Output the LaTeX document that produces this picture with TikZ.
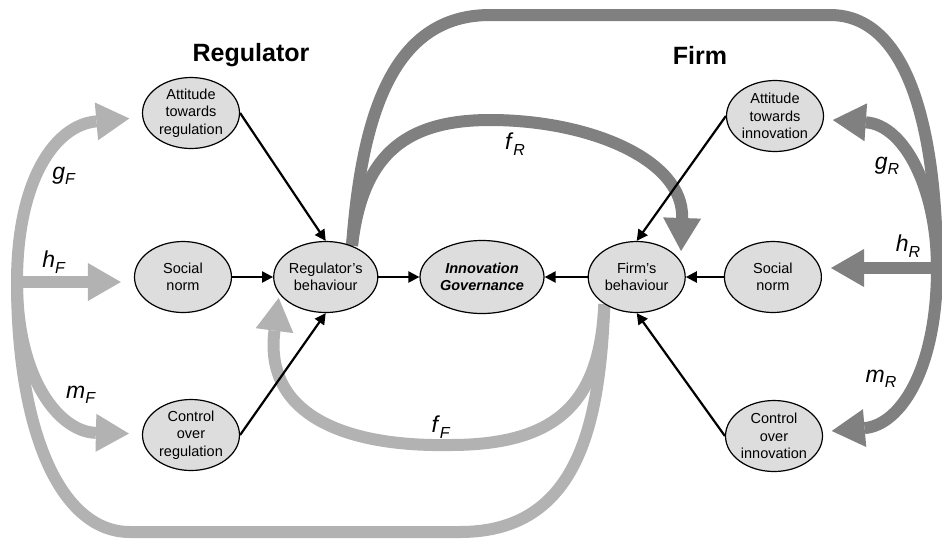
\documentclass[tikz,border=0pt]{standalone}
\usepackage{fontspec}
\setmainfont{Liberation Sans}
\usetikzlibrary{positioning,shapes.geometric,arrows.meta,backgrounds}

\definecolor{regGrey}{RGB}{128,128,128}
\definecolor{firmGrey}{RGB}{178,178,178}
\definecolor{nodeFill}{RGB}{221,221,221}

\newcommand{\coef}[2]{\textit{#1}\raisebox{-5.5pt}{\fontsize{16}{16}\selectfont\textit{#2}}}

\begin{document}
\begin{tikzpicture}[x=1pt,y=-1pt,
    factor/.style={ellipse,draw,line width=1.2pt,fill=nodeFill,inner sep=0pt,minimum width=97pt,minimum height=71pt,align=center,font=\fontsize{14.5}{17.5}\selectfont},
    outcome/.style={factor,minimum width=124pt,minimum height=73pt,font=\fontsize{14.5}{17.5}\selectfont\bfseries\itshape},
    link/.style={line width=2.2pt,-{Triangle[length=11pt,width=11pt]}},
    regflow/.style={draw=regGrey,line width=12pt,-{Triangle[length=33pt,width=38pt,line width=0pt]}},
    firmflow/.style={draw=firmGrey,line width=12pt,-{Triangle[length=33pt,width=38pt,line width=0pt]}},
    coeflabel/.style={font=\fontsize{23}{25}\selectfont},
    side/.style={font=\fontsize{25}{29}\selectfont\bfseries}]
        \useasboundingbox (0,0) rectangle (942,539);

        \node[side] (regT) at (251,55) {Regulator};
        \node[side] (firmT) at (700,55) {Firm};

        \node[outcome] (gov) at (482,277) {Innovation\\Governance};
        \node[factor] (reg) [left=41pt of gov] {Regulator’s\\behaviour};
        \node[factor] (socL) [left=41pt of reg] {Social\\norm};
        \node[factor] (attR) at (191,113) {Attitude\\towards\\regulation};
        \node[factor] (ctlR) at (191,435) {Control\\over\\regulation};
        \node[factor] (firm) [right=43pt of gov] {Firm’s\\behaviour};
        \node[factor] (socR) [right=38pt of firm] {Social\\norm};
        \node[factor] (attI) at (775,116) {Attitude\\towards\\innovation};
        \node[factor] (ctlI) at (774,436) {Control\\over\\innovation};

        \node[coeflabel] (gF) at (64,176) {\coef{g}{F}};
        \node[coeflabel] (hF) at (54,262) {\coef{h}{F}};
        \node[coeflabel] (mF) at (81,395) {\coef{m}{F}};
        \node[coeflabel] (fF) at (441,427) {\coef{f}{F}};
        \node[coeflabel] (fR) at (515,144) {\coef{f}{R}};
        \node[coeflabel] (gR) at (887,166) {\coef{g}{R}};
        \node[coeflabel] (hR) at (908,246) {\coef{h}{R}};
        \node[coeflabel] (mR) at (881,379) {\coef{m}{R}};

        \begin{pgfonlayer}{background}
        \coordinate (jR) at (937,268);
        \coordinate (jF) at (17,282);
        % regulator feeds the firm
        \draw[regflow,shorten >=9pt] (reg.50) .. controls (362,110) and (395,15) .. (490,15) -- (830,15)
            .. controls (915,15) and (937,150) .. (jR) .. controls (937,370) and (900,425) .. (ctlI);
        \draw[regflow,shorten >=10pt] (reg.50) .. controls (362,160) and (400,120) .. (490,120)
            .. controls (590,120) and (684,160) .. (firm.20);
        \draw[regflow,shorten >=9pt] (jR) .. controls (937,190) and (905,125) .. (attI);
        \draw[regflow,shorten >=9pt] (jR) -- (jR -| socR.east);
        % firm feeds the regulator
        \draw[firmflow,shorten >=13pt] (firm.220) .. controls (600,420) and (580,532) .. (460,532) -- (130,532)
            .. controls (60,532) and (17,430) .. (jF) .. controls (17,180) and (55,125) .. (attR);
        \draw[firmflow,shorten >=4pt] (firm.220) .. controls (600,400) and (560,445) .. (450,445)
            .. controls (340,447) and (264,412) .. (reg.200);
        \draw[firmflow,shorten >=13pt] (jF) -- (jF -| socL.west);
        \draw[firmflow,shorten >=13pt] (jF) .. controls (17,380) and (60,432) .. (ctlR);
        \end{pgfonlayer}

        \path[link]
        (attR.east) edge (reg.north)
        (socL) edge (reg)
        (ctlR.east) edge (reg.south)
        (reg) edge (gov)
        (firm) edge (gov)
        (socR) edge (firm)
        (attI.west) edge (firm.north)
        (ctlI.west) edge (firm.south)
        ;
    \end{tikzpicture}
\end{document}
